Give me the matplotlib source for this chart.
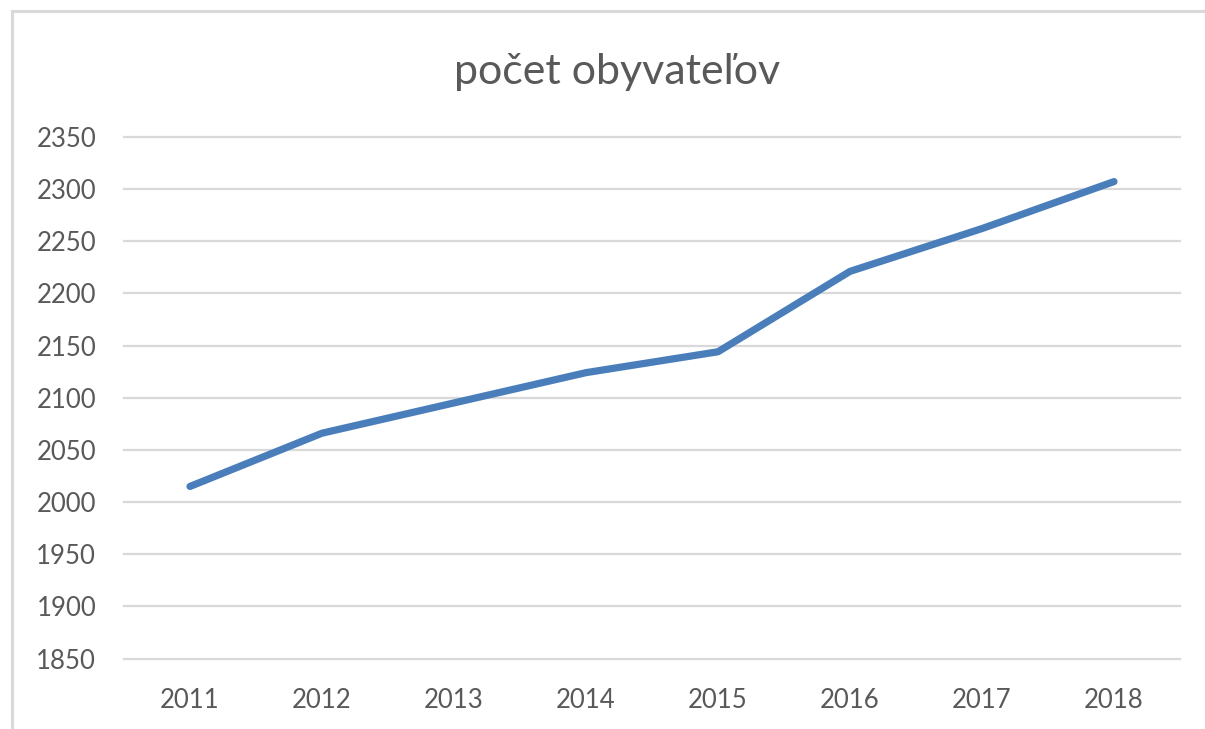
import matplotlib
matplotlib.use("Agg")
import matplotlib.pyplot as plt
from matplotlib.patches import Rectangle

years = ["2011", "2012", "2013", "2014", "2015", "2016", "2017", "2018"]
population = [2015, 2066, 2095, 2124, 2144, 2221, 2262, 2307]
yticks = [1850, 1900, 1950, 2000, 2050, 2100, 2150, 2200, 2250, 2300, 2350]
title = "počet obyvateľov"

plt.rcParams['font.family'] = ['Lato', 'DejaVu Sans']
W, H = 1205, 729
fig = plt.figure(figsize=(W / 100, H / 100), dpi=100)
fig.patch.set_facecolor('white')

# chart frame (extends beyond the right/bottom edges of the image)
fig.add_artist(Rectangle((11.5 / W, -0.1), 1.2, 1 - 11.5 / H + 0.1,
                         transform=fig.transFigure, fill=False,
                         edgecolor='#D9D9D9', linewidth=2.2))

ax = fig.add_axes([124 / W, 1 - 658.7 / H, (1180 - 124) / W, (658.7 - 136.7) / H])
x = list(range(len(years)))
ax.set_xlim(-0.5, len(years) - 0.5)
ax.set_ylim(1850, 2350)

for v in yticks:
    ax.axhline(v, color='#D9D9D9', linewidth=1.6, zorder=1, clip_on=False)

ax.plot(x, population, color='#4A7EBB', linewidth=5.2, solid_capstyle='round',
        solid_joinstyle='round', zorder=3)

for s in ax.spines.values():
    s.set_visible(False)
ax.set_yticks(yticks)
ax.set_yticklabels([str(v) for v in yticks])
ax.set_xticks(x)
ax.set_xticklabels(years)
ax.tick_params(axis='both', length=0, labelsize=18.5, labelcolor='#595959')
ax.tick_params(axis='y', pad=20)
ax.tick_params(axis='x', pad=21)

fig.text(617 / W, 1 - 72 / H, title, ha='center', va='center',
         fontsize=31, color='#595959')

fig.savefig("out.png", dpi=100, facecolor='white')
